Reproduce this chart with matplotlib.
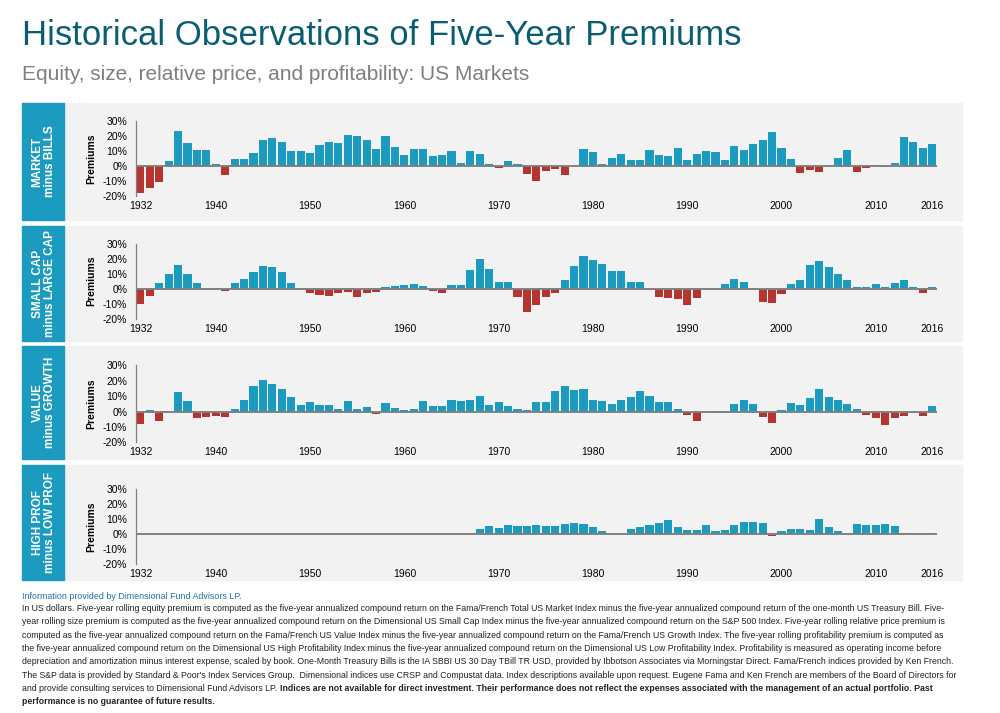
import numpy as np
import matplotlib
matplotlib.use("Agg")
import matplotlib.pyplot as plt
from matplotlib.patches import Rectangle

# ==============================================================================
# DATA - five-year rolling premiums (%), 1932-2016
# ==============================================================================

years = list(range(1932, 2017))

market = [
    -18, -15, -10.8, 3.5, 23.3, 15.4, 10.8, 10.8, 1.5, -6.2,
    4.8, 4.8, 8.8, 17.4, 18.7, 16, 10.1, 10.1, 8.8, 14.1,
    16, 15.4, 20.7, 20, 17.4, 11.4, 20, 12.7, 7.5, 11.4,
    11.4, 6.8, 7.5, 10.1, 2.2, 10.1, 8.1, 1.5, -1.5, 3.5,
    1.5, -5.5, -10, -3.5, -2.2, -6.2, 0, 11.4, 9.5, 1.5,
    5.5, 8.1, 4.2, 4.2, 10.8, 7.5, 6.8, 12.1, 4.2, 8.1,
    10.1, 9.5, 4.2, 13.4, 10.8, 14.7, 17.4, 22.6, 12.1, 4.8,
    -4.8, -2.9, -4.2, 0, 5.5, 10.8, -4.2, -1.5, 0.9, -0.9,
    2.2, 19.3, 16, 12.1, 14.7,
]

size = [
    -10.3, -4.8, 3.5, 9.5, 16, 10.1, 3.5, 0, 0, -1.3,
    3.5, 6.8, 11.4, 15.4, 14.7, 11.4, 3.5, 0, -2.9, -4.2,
    -4.8, -2.9, -2.2, -5.5, -2.9, -2.2, 0.9, 1.5, 2.2, 2.9,
    1.5, -1.5, -2.9, 2.2, 2.2, 12.7, 20, 13.4, 4.2, 4.8,
    -5.5, -15.4, -10.8, -5.5, -2.9, 5.5, 15.4, 22, 19.3, 16.7,
    12.1, 12.1, 4.8, 4.2, -0.9, -5.5, -6.2, -6.8, -10.8, -6.2,
    0, 0, 2.9, 6.8, 4.2, 0, -8.6, -9.2, -3.5, 2.9,
    5.5, 16, 18.7, 14.7, 9.5, 5.5, 0.9, 0.9, 2.9, 0.9,
    3.5, 5.5, 0.9, -2.9, 0.9,
]

value = [
    -8, 0.9, -6, 0, 12.5, 6.7, -4.1, -3.5, -2.8, -3.5,
    1.5, 7.3, 16.4, 20.3, 17.7, 14.5, 9.3, 4.1, 6, 4.1,
    4.1, 1.5, 6.7, 1.5, 2.8, -1.5, 5.4, 2.2, 0.9, 1.5,
    6.7, 3.5, 3.5, 7.3, 6.7, 7.3, 9.9, 4.1, 6, 3.5,
    1.5, 0.9, 6, 6, 13.2, 16.4, 13.8, 14.5, 7.3, 6.7,
    4.8, 7.3, 9.3, 13.2, 9.9, 6, 6, 1.5, -2.2, -6,
    0, 0.5, 0.5, 4.8, 7.3, 4.8, -3.5, -7.3, 0.9, 5.4,
    4.1, 8.6, 14.5, 9.3, 7.3, 4.8, 1.5, -2.2, -4.1, -8.6,
    -4.1, -2.8, -0.9, -2.8, 3.5,
]

# profitability series only starts in 1968
profitability = [None] * 36 + [
    3.3, 5.3, 4, 6, 5.3, 5.3, 6, 5.3, 5.3, 6.6,
    7.3, 6.6, 4.6, 2, 0, 0, 3.3, 4.6, 6, 7.3,
    9.3, 4.6, 2.6, 2.6, 6, 2, 2.6, 6, 8, 8,
    7.3, -1, 2, 3.3, 3.3, 2.6, 10, 4.6, 2, 0,
    6.6, 6, 6, 6.6, 5.3, 0.7, 0.7, 0, 0.7,
]

panel_labels = ["MARKET\nminus BILLS", "SMALL CAP\nminus LARGE CAP",
                "VALUE\nminus GROWTH", "HIGH PROF\nminus LOW PROF"]
series = [market, size, value, profitability]

tick_years = [1932, 1940, 1950, 1960, 1970, 1980, 1990, 2000, 2010, 2016]
y_ticks = [-20, -10, 0, 10, 20, 30]

title = "Historical Observations of Five-Year Premiums"
subtitle = "Equity, size, relative price, and profitability: US Markets"

source_line = "Information provided by Dimensional Fund Advisors LP."
note_lines = [
    "In US dollars. Five-year rolling equity premium is computed as the five-year annualized compound return on the Fama/French Total US Market Index minus the five-year annualized compound return of the one-month US Treasury Bill. Five-",
    "year rolling size premium is computed as the five-year annualized compound return on the Dimensional US Small Cap Index minus the five-year annualized compound return on the S&P 500 Index. Five-year rolling relative price premium is",
    "computed as the five-year annualized compound return on the Fama/French US Value Index minus the five-year annualized compound return on the Fama/French US Growth Index. The five-year rolling profitability premium is computed as",
    "the five-year annualized compound return on the Dimensional US High Profitability Index minus the five-year annualized compound return on the Dimensional US Low Profitability Index. Profitability is measured as operating income before",
    "depreciation and amortization minus interest expense, scaled by book. One-Month Treasury Bills is the IA SBBI US 30 Day TBill TR USD, provided by Ibbotson Associates via Morningstar Direct. Fama/French indices provided by Ken French.",
    "The S&P data is provided by Standard & Poor's Index Services Group.  Dimensional indices use CRSP and Compustat data. Index descriptions available upon request. Eugene Fama and Ken French are members of the Board of Directors for",
]
note_mixed = ("and provide consulting services to Dimensional Fund Advisors LP. ",
              "Indices are not available for direct investment. Their performance does not reflect the expenses associated with the management of an actual portfolio. Past")
note_last = "performance is no guarantee of future results."

# ==============================================================================
# STYLE / LAYOUT (pixel coords of a 1000x713 canvas)
# ==============================================================================

W, H = 1000, 713
TEAL = "#1a9bbf"
RED = "#b5342f"
TITLE_COL = "#0b5e72"
PANEL_BG = "#f2f2f2"
AXIS_GREY = "#808080"

plt.rcParams['font.family'] = ['Liberation Sans', 'DejaVu Sans']

# (top, bottom) of each gray panel, and (top, bottom) of the plotting area
panel_px = [(103, 220), (226, 341), (346, 459), (465, 580)]
axes_px = [(120.7, 196), (243.7, 318.7), (365.3, 442.3), (489, 564)]
ax_left, ax_right = 135.7, 937


def fx(px):
    return px / W


def fy(py):
    return 1 - py / H


fig = plt.figure(figsize=(W / 100, H / 100), dpi=100)

fig.text(fx(22), fy(45), title, fontsize=25, color=TITLE_COL, va='baseline')
fig.text(fx(22), fy(80), subtitle, fontsize=15, color="#7f7f7f", va='baseline')

for (ptop, pbot), (atop, abot), vals, label in zip(panel_px, axes_px, series, panel_labels):
    # gray panel + teal label box (drawn behind the axes)
    fig.patches.append(Rectangle((fx(64), fy(pbot)), fx(962 - 64), (pbot - ptop) / H,
                                 transform=fig.transFigure, color=PANEL_BG, zorder=-5))
    fig.patches.append(Rectangle((fx(22), fy(pbot)), fx(64 - 22), (pbot - ptop) / H,
                                 transform=fig.transFigure, color=TEAL, zorder=-5))
    fig.text(fx(44), fy((ptop + pbot) / 2), label, rotation=90, color="white",
             fontsize=8.5, fontweight='bold', ha='center', va='center',
             multialignment='center', linespacing=1.1)

    ax = fig.add_axes([fx(ax_left), fy(abot), fx(ax_right - ax_left), (abot - atop) / H])
    ax.set_zorder(2)
    ax.patch.set_alpha(0)

    v = np.array([np.nan if x is None else x for x in vals], dtype=float)
    colors = [TEAL if (not np.isnan(x) and x >= 0) else RED for x in v]
    ax.bar(years, np.nan_to_num(v), width=0.86, color=colors, zorder=2)
    ax.axhline(0, color=AXIS_GREY, lw=1.4, zorder=3)

    ax.set_xlim(1931.5, 2016.5)
    ax.set_ylim(-20, 30)
    ax.set_yticks(y_ticks)
    ax.set_yticklabels([f"{t}%" for t in y_ticks])
    ax.set_xticks(tick_years)
    ax.set_xticklabels([str(y) for y in tick_years])
    ax.tick_params(axis='both', length=0, labelsize=7.5, colors="black")
    ax.tick_params(axis='y', pad=6)
    ax.tick_params(axis='x', pad=3.5)
    for s in ['top', 'right', 'bottom']:
        ax.spines[s].set_visible(False)
    ax.spines['left'].set_color(AXIS_GREY)
    ax.spines['left'].set_linewidth(0.9)

    fig.text(fx(91), fy((atop + abot) / 2), "Premiums", rotation=90, fontsize=7.5,
             fontweight='bold', ha='center', va='center')

# ==============================================================================
# FOOTNOTES
# ==============================================================================

NOTE_FONT = ['Liberation Sans Narrow', 'Liberation Sans']
fig.text(fx(22), fy(599), source_line, fontsize=6.4, color="#1f6fa8",
         family=NOTE_FONT, va='baseline')

fig.canvas.draw()
renderer = fig.canvas.get_renderer()

# scale the note font so the first line spans the same width as the original
probe = fig.text(0, 0, note_lines[0], fontsize=7, family=NOTE_FONT)
w = probe.get_window_extent(renderer).width
probe.remove()
note_size = 7 * 929 / w

y0, step = 611, 13.3
for i, line in enumerate(note_lines):
    fig.text(fx(22), fy(y0 + i * step), line, fontsize=note_size, family=NOTE_FONT,
             va='baseline', color="#222222")

yb = y0 + len(note_lines) * step
t1 = fig.text(fx(22), fy(yb), note_mixed[0], fontsize=note_size, family=NOTE_FONT,
              va='baseline', color="#222222")
w1 = t1.get_window_extent(renderer).width
fig.text(fx(22 + w1), fy(yb), note_mixed[1], fontsize=note_size, family=NOTE_FONT,
         fontweight='bold', va='baseline', color="#222222")
fig.text(fx(22), fy(yb + step), note_last, fontsize=note_size, family=NOTE_FONT,
         fontweight='bold', va='baseline', color="#222222")

fig.savefig("out.png", dpi=100, facecolor="white")
print("Saved plot.")
